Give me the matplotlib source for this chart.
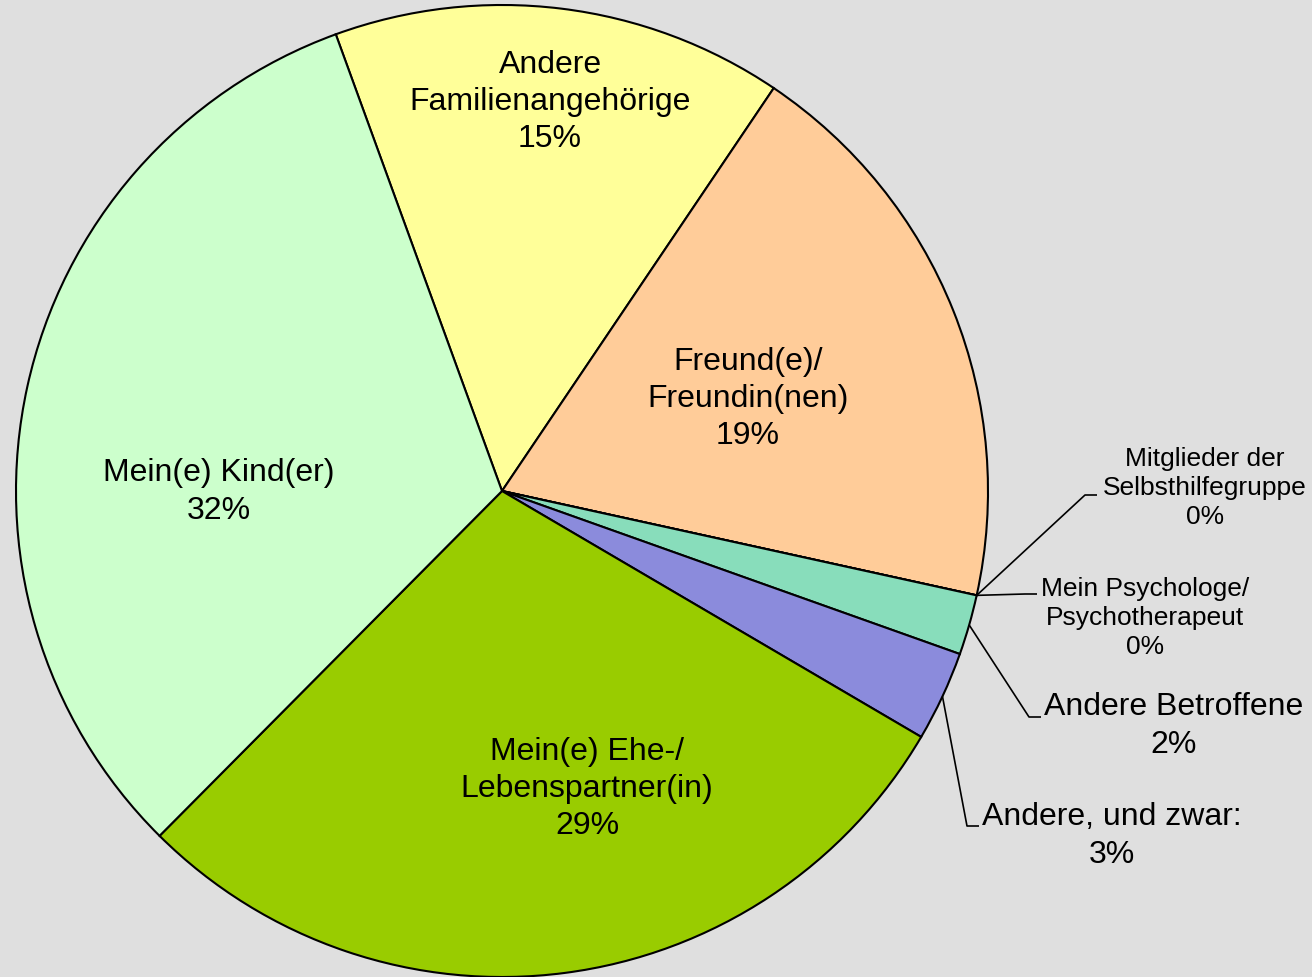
import numpy as np
import matplotlib
matplotlib.use("Agg")
import matplotlib.pyplot as plt

plt.rcParams['font.family'] = ['Liberation Sans', 'DejaVu Sans']

# Anteile in Prozent, im Uhrzeigersinn
labels = ['Andere\nFamilienangehörige', 'Freund(e)/\nFreundin(nen)',
          'Mitglieder der\nSelbsthilfegruppe', 'Mein Psychologe/\nPsychotherapeut',
          'Andere Betroffene', 'Andere, und zwar:',
          'Mein(e) Ehe-/\nLebenspartner(in)', 'Mein(e) Kind(er)']
values = [15, 19, 0, 0, 2, 3, 29, 32]
colors = ['#FFFF99', '#FFCC99', '#CCFFFF', '#FF99CC',
          '#88DDBB', '#8B8BDC', '#99CC00', '#CCFFCC']

W, H = 1312, 978
cx, cy, R = 502, H - 492, 486

fig = plt.figure(figsize=(W / 100, H / 100), dpi=100, facecolor='#DFDFDF')
ax = fig.add_axes([0, 0, 1, 1])
ax.set_facecolor('#DFDFDF')

wedges, _ = ax.pie(values, colors=colors, startangle=110, counterclock=False,
                   center=(cx, cy), radius=R,
                   wedgeprops=dict(edgecolor='black', linewidth=1.5))
ax.set_xlim(0, W)
ax.set_ylim(0, H)
ax.set_axis_off()

# Beschriftungen in den großen Segmenten
inside = {0: (550, 102), 1: (748, 399), 6: (587, 789), 7: (219, 492)}
for i, (x, y) in inside.items():
    ax.text(x, H - y, f"{labels[i]}\n{values[i]}%", ha='center', va='center',
            fontsize=23, linespacing=1.31)

# Beschriftungen außerhalb mit Führungslinien (Knickpunkt, Textposition, Schriftgröße)
outside = {
    2: ((1085, 496), (1205, 488), 19, 1.27),
    3: ((1025, 595), (1145, 618), 19, 1.27),
    4: ((1029, 718), (1174, 726), 23, 1.31),
    5: ((967, 827), (1112, 836), 23, 1.31),
}
for i, ((kx, ky), (tx, ty), fs, ls) in outside.items():
    w = wedges[i]
    ang = np.deg2rad((w.theta1 + w.theta2) / 2)
    sx, sy = cx + R * np.cos(ang), cy + R * np.sin(ang)
    ax.plot([sx, kx, kx + 12], [sy, H - ky, H - ky], color='black', lw=1.2,
            solid_capstyle='butt')
    ax.text(tx, H - ty, f"{labels[i]}\n{values[i]}%", ha='center', va='center',
            fontsize=fs, linespacing=ls)

fig.savefig('out.png', dpi=100, facecolor=fig.get_facecolor())
